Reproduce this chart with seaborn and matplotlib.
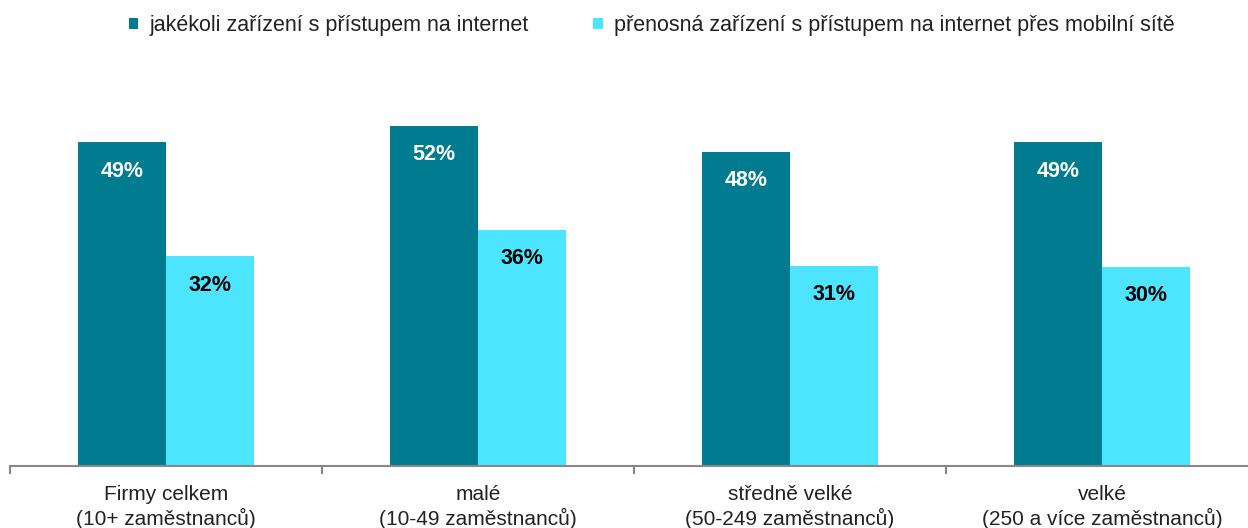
import numpy as np
import pandas as pd
import matplotlib
matplotlib.use("Agg")
import matplotlib.pyplot as plt
import seaborn as sns

# chart data
categories = ["Firmy celkem\n(10+ zaměstnanců)", "malé\n(10-49 zaměstnanců)",
              "středně velké\n(50-249 zaměstnanců)", "velké\n(250 a více zaměstnanců)"]
series_names = ["jakékoli zařízení s přístupem na internet",
                "přenosná zařízení s přístupem na internet přes mobilní sítě"]
any_device = [49.4, 51.9, 47.9, 49.4]
mobile_device = [32.0, 36.1, 30.6, 30.4]
colors = ["#017B8F", "#4CE4FE"]

df = pd.DataFrame({
    "kategorie": categories * 2,
    "serie": [series_names[0]] * 4 + [series_names[1]] * 4,
    "hodnota": any_device + mobile_device,
})

sns.set_style("white")
plt.rcParams["font.family"] = ["Liberation Sans", "DejaVu Sans"]

fig = plt.figure(figsize=(12.48, 5.28), dpi=100)
ax = fig.add_axes([10 / 1248, 62 / 528, 1248 / 1248, 393 / 528])

sns.barplot(data=df, x="kategorie", y="hodnota", hue="serie", palette=colors,
            width=0.565, gap=0, saturation=1, linewidth=0, ax=ax, legend=True)

ax.set_xlim(-0.5, 3.5)
ax.set_ylim(0, 60)
ax.set_xlabel("")
ax.set_ylabel("")
ax.set_yticks([])

for spine in ["top", "right", "left"]:
    ax.spines[spine].set_visible(False)
ax.spines["bottom"].set_color("#888888")
ax.spines["bottom"].set_linewidth(1.5)

ax.tick_params(axis="x", which="major", length=0, labelsize=15, labelcolor="#222222", pad=14)
ax.set_xticks(np.arange(-0.5, 4.0, 1.0), minor=True)
ax.tick_params(axis="x", which="minor", bottom=True, length=6, width=1.5,
               color="#888888", direction="out")

# value labels inside bars
for i, container in enumerate(ax.containers):
    txt_color = "white" if i == 0 else "black"
    for bar, val in zip(container, [any_device, mobile_device][i]):
        ax.text(bar.get_x() + bar.get_width() / 2, bar.get_height() - 4.0,
                f"{round(val)}%", ha="center", va="center_baseline",
                fontsize=15.5, fontweight="bold", color=txt_color)

handles, labels = ax.get_legend_handles_labels()
ax.legend_.remove()
fig.legend(handles, labels, loc="center", bbox_to_anchor=(0.522, 0.951), ncol=2,
           frameon=False, fontsize=15.5, handlelength=0.45, handleheight=0.45,
           handletextpad=0.5, columnspacing=3.0, labelcolor="#222222")

fig.savefig("out.png", dpi=100)
